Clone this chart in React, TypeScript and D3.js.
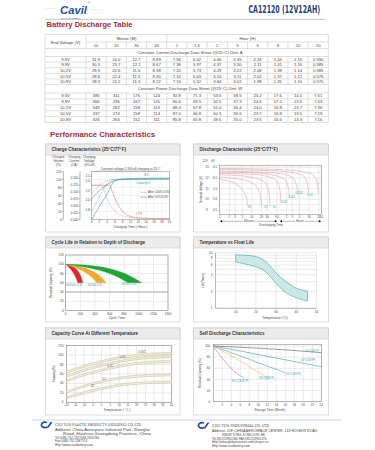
import React from "react";
import * as d3 from "d3";

const FONT = "'Liberation Sans', Arial, sans-serif";

// ---------------- Discharge table data ----------------
const endVoltages = ["9.6V", "9.9V", "10.2V", "10.5V", "10.8V"];
const minuteCols = ["10", "15", "30", "45"];
const hourCols = ["1", "1.5", "2", "3", "5", "8", "10", "20"];
const currentA = [
  ["31.9", "24.0", "12.7", "8.89", "7.56", "6.02", "4.46", "3.35", "2.16", "1.44", "1.16", "0.590"],
  ["30.3", "23.7", "12.1", "8.67", "7.38", "5.97", "4.37", "3.30", "2.11", "1.41", "1.16", "0.585"],
  ["28.9", "22.6", "11.5", "8.38", "7.20", "5.73", "4.29", "3.22", "2.08", "1.38", "1.14", "0.585"],
  ["28.6", "22.4", "11.5", "8.30", "7.16", "5.63", "4.10", "3.11", "2.02", "1.37", "1.12", "0.575"],
  ["28.3", "22.2", "11.3", "8.22", "7.16", "5.52", "3.84", "3.02", "1.98", "1.35", "1.10", "0.570"],
];
const powerW = [
  ["385", "311", "176", "124", "92.8", "71.3", "53.6", "38.5", "25.2", "17.6", "14.0", "7.51"],
  ["366", "296", "167", "120", "90.6", "69.5", "52.5", "37.3", "24.6", "17.2", "13.6", "7.43"],
  ["349", "282", "158", "116", "88.4", "67.8", "51.0", "36.4", "24.0", "16.8", "13.7", "7.36"],
  ["337", "274", "158", "114", "87.0", "66.8", "50.3", "35.6", "23.7", "16.8", "13.5", "7.29"],
  ["326", "265", "152", "111", "85.8", "65.8", "49.6", "35.0", "23.5", "16.6", "13.3", "7.16"],
];

// ---------------- Charge characteristics ----------------
const chargeTimeTicks = [0, 2, 4, 6, 8, 10, 12, 14, 16, 18, 20];
const volumeTicks = [0, 20, 40, 60, 80, 100, 120];
const currentTicks = [0, 0.025, 0.05, 0.075, 0.1, 0.125, 0.15];
const voltageTicks = [1.8, 2.0, 2.2, 2.4, 2.5];
const volume100 = [[0, 0], [1, 16], [2, 32], [3, 48], [4, 64], [4.8, 80], [5.6, 93], [6.5, 99], [8, 100], [20, 101]];
const volume50 = [[0, 20], [1, 38], [2, 56], [3, 74], [4, 88], [5, 96], [6, 99.5], [8, 100.5], [20, 101]];
const current100 = [[0, 0.125], [4.6, 0.125], [5.5, 0.095], [6.5, 0.062], [7.5, 0.038], [8.5, 0.022], [10, 0.011], [12, 0.006], [15, 0.004], [20, 0.003]];
const current50 = [[0, 0.125], [2.6, 0.125], [3.6, 0.09], [4.6, 0.058], [5.8, 0.034], [7, 0.02], [9, 0.01], [12, 0.005], [20, 0.003]];
const voltage100 = [[0, 2.02], [1, 2.12], [2, 2.2], [3, 2.27], [4, 2.33], [5, 2.38], [6, 2.41], [8, 2.44], [12, 2.455], [20, 2.46]];
const voltage50 = [[0, 2.12], [1, 2.23], [2, 2.31], [3, 2.37], [4, 2.41], [6, 2.44], [10, 2.455], [20, 2.46]];

// ---------------- Discharge characteristics ----------------
const dischargeMinuteTicks = [1, 2, 3, 5, 10, 20, 30, 60];
const dischargeHourTicks = [2, 3, 5, 10, 20, 24];
const voltGrid = [9, 9.5, 10, 10.5, 11, 11.5, 12, 12.5, 13];
const volt12Labels = [13, 12, 11, 10, 9];
const volt6Labels = ["6.5", "6.0", "5.5", "5.0", "4.5"];
const dischargeRates = ["3C", "2C", "1C", "0.6C", "0.4C", "0.25C", "0.1C", "0.05C"];
const dischargeCurves = [
  [[1, 11.9], [2, 11.7], [3, 11.5], [4, 11.25], [5, 10.95], [6, 10.55], [7, 10.0], [7.6, 9.3]],
  [[1, 12.1], [3, 11.95], [6, 11.8], [10, 11.55], [14, 11.2], [17, 10.7], [19, 10.1], [20, 9.3]],
  [[1, 12.3], [5, 12.2], [10, 12.05], [20, 11.8], [28, 11.4], [33, 10.8], [35.5, 10.1], [36.6, 9.4]],
  [[1, 12.45], [10, 12.35], [30, 12.15], [50, 11.9], [65, 11.5], [74, 10.9], [78, 10.3], [80, 9.7]],
  [[1, 12.55], [10, 12.5], [40, 12.3], [90, 12.0], [120, 11.6], [138, 11.0], [146, 10.5], [150, 10.1]],
  [[1, 12.65], [20, 12.55], [80, 12.4], [170, 12.1], [220, 11.7], [250, 11.15], [263, 10.8], [270, 10.4]],
  [[1, 12.8], [30, 12.7], [150, 12.55], [350, 12.3], [470, 11.9], [530, 11.4], [555, 11.0], [570, 10.6]],
  [[1, 12.9], [60, 12.8], [300, 12.65], [700, 12.4], [950, 12.0], [1080, 11.5], [1130, 11.1], [1160, 10.6]],
];
const dischargeLabelAt = [[8.7, 9.32], [26.9, 9.32], [50, 9.32], [102, 9.73], [173, 10.25], [298, 10.63], [640, 10.41]];

// ---------------- Cycle life ----------------
const cycleTicks = [0, 200, 400, 600, 800, 1000, 1200, 1400];
const residualTicks = [0, 20, 40, 60, 80, 100, 120];
const dodNames = ["100%D.O.D", "50%D.O.D", "30%D.O.D"];
const dodColors = ["#e3232a", "#f3a92c", "#1fa535"];
const dodUpper = [
  [[0, 100], [80, 97], [150, 90], [205, 77], [235, 60]],
  [[0, 100], [180, 96], [340, 88], [470, 76], [555, 60]],
  [[0, 100], [300, 98.5], [600, 92], [850, 79], [1040, 60]],
];
const dodLower = [
  [[0, 100], [50, 93], [100, 84], [140, 72], [165, 60]],
  [[0, 100], [130, 93], [260, 84], [360, 73], [425, 60]],
  [[0, 100], [230, 95], [480, 87], [690, 75], [850, 60]],
];
const dodLabelAt = [[110, 54], [400, 54], [870, 56]];

// ---------------- Temperature vs float life ----------------
const floatTempTicks = [10, 20, 30, 40, 50];
const floatLifeLabels = [10, 8, 6, 4, 2, 1];
const floatLifeGrid = [1, 2, 3, 4, 5, 6, 7, 8, 9, 10];
const floatUpper = [[10, 9.2], [14, 9.0], [18, 8.8], [21, 8.3], [25, 6.9], [30, 4.3], [35, 3.0], [40, 2.3], [45.5, 2.05]];
const floatLower = [[10, 6.8], [15, 6.2], [20, 5.6], [25, 4.5], [30, 2.8], [35, 1.9], [40, 1.55], [45.5, 1.35]];

// ---------------- Capacity vs temperature ----------------
const capTempTicks = [-20, -15, -10, -5, 0, 5, 10, 15, 20, 25, 30, 35, 40];
const capTicks = [0, 20, 40, 60, 80, 100, 120];
const capTemps = [-20, -10, 0, 10, 20, 30, 40];
const capRates = ["0.05C", "0.1C", "0.2C", "1C", "2C"];
const capUpper = [
  [66, 78, 88, 96, 101, 104, 105],
  [57, 70, 80, 88, 94, 97, 98],
  [47, 60, 70, 78, 84, 87, 88],
  [24, 36, 46, 53, 57, 59, 60],
  [11, 22, 31, 38, 42, 44, 45],
];
const capLower = [
  [62, 74, 84, 92, 97, 100, 101],
  [53, 66, 76, 84, 90, 93, 94],
  [43, 56, 66, 74, 80, 83, 84],
  [20, 32, 42, 49, 53, 55, 56],
  [8, 18, 27, 34, 38, 40, 41],
];
const capLabelAt = [[23, 104], [12, 93], [5, 75], [1.5, 48], [-5, 32]];

// ---------------- Self discharge ----------------
const storageTicks = [2, 4, 6, 8, 10, 12, 14, 16, 18, 20, 22, 24];
const sdCapTicks = [0, 20, 40, 60, 80, 100];
const sdNames = ["0°C(32°F)", "10°C(50°F)", "20°C(68°F)", "30°C(86°F)", "40°C(104°F)"];
const sdColors = ["#555555", "#3a9aa3", "#4aa3a0", "#ecb45a", "#bb6aa6"];
const sdCurves = [
  [[0, 100], [6, 97.8], [12, 95.2], [18, 92], [24, 88]],
  [[0, 100], [6, 91], [12, 81.5], [18, 72], [24, 63]],
  [[0, 100], [4, 88], [8, 76], [12, 64], [16, 52]],
  [[0, 100], [3, 87], [6, 73], [9, 58], [12, 43]],
  [[0, 100], [1, 88], [2, 78], [3, 68.5], [4, 60], [5, 52.5], [6, 46.5], [7, 42]],
];
const sdLabelAt = [[22, 90], [21, 73], [17.8, 48], [11.9, 40], [5.9, 36]];

// ---------------- helpers ----------------
const GRID = "#c9c9c9";
const TEAL = "#2f9fa6";

function T(props: any) {
  const { x, y, s = 3.6, a = "start", c = "#444", w = 400, children, ...rest } = props;
  return (
    <text x={x} y={y} fontSize={s} textAnchor={a} fill={c} fontWeight={w} fontFamily={FONT} {...rest}>
      {children}
    </text>
  );
}

function Panel({ x, y, w, h, title }: any) {
  return (
    <g>
      <rect x={x} y={y} width={w} height={h} fill="#fff" stroke="#c6c6c6" strokeWidth={0.6} />
      <rect x={x} y={y} width={w} height={11} fill="#ececec" stroke="#c6c6c6" strokeWidth={0.6} />
      <T x={x + 6} y={y + 7.3} s={4.5} w={700} c="#333">{title}</T>
    </g>
  );
}

function VTitle({ x, y, s = 3.3, children }: any) {
  return (
    <text transform={`translate(${x},${y}) rotate(-90)`} fontSize={s} textAnchor="middle" fill="#444" fontFamily={FONT}>
      {children}
    </text>
  );
}

const mkLine = (xs: any, ys: any, curve: any = d3.curveMonotoneX) =>
  d3.line<any>().x((d) => xs(d[0])).y((d) => ys(d[1])).curve(curve);

// ---------------- Table ----------------
function DischargeTable() {
  const x0 = 45, x1 = 86, x2 = 328.3;
  const cols = [...minuteCols, ...hourCols];
  const band = d3.scaleBand<number>().domain(d3.range(cols.length)).range([x1, x2]);
  const bounds = [34.5, 42, 48.5, 56.5, 62.1, 67.7, 73.3, 78.9, 84.5, 93, 98.9, 104.8, 110.7, 116.6, 122.5];
  const mid = (i: number) => (bounds[i] + bounds[i + 1]) / 2 + 1.5;
  const fs = 4.2;
  const lc = "#bdbdbd";
  const lines: any[] = [];
  bounds.forEach((b, i) => {
    const from = i === 1 ? x1 : x0;
    lines.push(<line key={"h" + i} x1={from} x2={x2} y1={b} y2={b} stroke={lc} strokeWidth={0.5} />);
  });
  const vSpans = [[0, 2], [3, 8], [9, 14]];
  vSpans.forEach(([a, b], k) => {
    lines.push(<line key={"v0" + k} x1={x0} x2={x0} y1={bounds[a]} y2={bounds[b]} stroke={lc} strokeWidth={0.5} />);
    lines.push(<line key={"v1" + k} x1={x1} x2={x1} y1={bounds[a]} y2={bounds[b]} stroke={lc} strokeWidth={0.5} />);
    lines.push(<line key={"v2" + k} x1={x2} x2={x2} y1={bounds[a]} y2={bounds[b]} stroke={lc} strokeWidth={0.5} />);
    d3.range(1, cols.length).forEach((c) => {
      const xx = band(c)!;
      const top = a === 0 ? (c === minuteCols.length ? bounds[0] : bounds[1]) : bounds[a];
      lines.push(<line key={`vc${k}-${c}`} x1={xx} x2={xx} y1={top} y2={bounds[b]} stroke={lc} strokeWidth={0.5} />);
    });
  });
  [2, 8].forEach((r) => {
    lines.push(<line key={"s0" + r} x1={x0} x2={x0} y1={bounds[r]} y2={bounds[r + 1]} stroke={lc} strokeWidth={0.5} />);
    lines.push(<line key={"s1" + r} x1={x2} x2={x2} y1={bounds[r]} y2={bounds[r + 1]} stroke={lc} strokeWidth={0.5} />);
  });
  const cx = (i: number) => band(i)! + band.bandwidth() / 2;
  return (
    <g>
      {lines}
      <T x={(x0 + x1) / 2} y={bounds[1] + 1.5} s={fs} a="middle">End Voltage (V)</T>
      <T x={(band(0)! + band(minuteCols.length)!) / 2} y={mid(0)} s={fs} a="middle">Minute (M)</T>
      <T x={(band(minuteCols.length)! + x2) / 2} y={mid(0)} s={fs} a="middle">Hour (H)</T>
      {cols.map((c, i) => (
        <T key={"c" + i} x={cx(i)} y={mid(1)} s={fs} a="middle">{c}</T>
      ))}
      <T x={190} y={mid(2)} s={fs} a="middle">Constant Current Discharge Data Sheet    (@25°C)    Unit: A</T>
      <T x={190} y={mid(8)} s={fs} a="middle">Constant Power Discharge Data Sheet    (@25°C)    Unit: W</T>
      {currentA.map((row, r) => (
        <g key={"ra" + r}>
          <T x={(x0 + x1) / 2} y={mid(3 + r)} s={fs} a="middle">{endVoltages[r]}</T>
          {row.map((v, i) => (
            <T key={i} x={cx(i)} y={mid(3 + r)} s={fs} a="middle">{v}</T>
          ))}
        </g>
      ))}
      {powerW.map((row, r) => (
        <g key={"rw" + r}>
          <T x={(x0 + x1) / 2} y={mid(9 + r)} s={fs} a="middle">{endVoltages[r]}</T>
          {row.map((v, i) => (
            <T key={i} x={cx(i)} y={mid(9 + r)} s={fs} a="middle">{v}</T>
          ))}
        </g>
      ))}
    </g>
  );
}

// ---------------- Charge chart ----------------
function ChargeChart() {
  const L = 91.5, R = 169.5, TOP = 171.5, B = 219.5;
  const x = d3.scaleLinear().domain([0, 20]).range([L, R]);
  const yV = d3.scaleLinear().domain([0, 120]).range([B, TOP]);
  const yC = d3.scaleLinear().domain([0, 0.175]).range([B, TOP]);
  const yU = d3.scaleLinear().domain([1.6, 2.6]).range([B, TOP]);
  const lv = mkLine(x, yV), lu = mkLine(x, yU);
  const lcs = mkLine(x, yC, d3.curveMonotoneX);
  const heads = [
    { x: 58.3, t: ["Charged", "Volume", "(%)"] },
    { x: 74.3, t: ["Charging", "Current", "(CA)"] },
    { x: 89.3, t: ["Charging", "Voltage", "(V/Cell)"] },
  ];
  return (
    <g>
      {heads.map((h, i) =>
        h.t.map((s, j) => (
          <T key={i + "-" + j} x={h.x} y={157.5 + j * 4} s={3.1} a="middle">{s}</T>
        ))
      )}
      {chargeTimeTicks.map((t) => (
        <line key={"gx" + t} x1={x(t)} x2={x(t)} y1={TOP} y2={B} stroke="#e0e0e0" strokeWidth={0.4} />
      ))}
      {volumeTicks.map((v) => (
        <line key={"gy" + v} x1={L} x2={R} y1={yV(v)} y2={yV(v)} stroke="#e0e0e0" strokeWidth={0.4} />
      ))}
      <rect x={L} y={TOP} width={R - L} height={B - TOP} fill="none" stroke="#888" strokeWidth={0.5} />
      <line x1={63.3} x2={63.3} y1={TOP} y2={B} stroke="#666" strokeWidth={0.5} />
      <line x1={80} x2={80} y1={TOP} y2={B} stroke="#666" strokeWidth={0.5} />
      {volumeTicks.map((v) => (
        <g key={"tv" + v}>
          <line x1={62} x2={63.3} y1={yV(v)} y2={yV(v)} stroke="#666" strokeWidth={0.4} />
          <T x={61.5} y={yV(v) + 1.1} s={3.1} a="end">{v}</T>
        </g>
      ))}
      {currentTicks.map((v) => (
        <g key={"tc" + v}>
          <line x1={78.7} x2={80} y1={yC(v)} y2={yC(v)} stroke="#666" strokeWidth={0.4} />
          <T x={78.3} y={yC(v) + 1.1} s={3.1} a="end">{v.toFixed(3)}</T>
        </g>
      ))}
      {voltageTicks.map((v) => (
        <g key={"tu" + v}>
          <line x1={L - 1.3} x2={L} y1={yU(v)} y2={yU(v)} stroke="#666" strokeWidth={0.4} />
          <T x={L - 1.7} y={yU(v) + 1.1} s={3.1} a="end">{v.toFixed(1)}</T>
        </g>
      ))}
      {chargeTimeTicks.map((t) => (
        <T key={"xl" + t} x={x(t)} y={B + 3.8} s={3.1} a="middle">{t}</T>
      ))}
      <T x={(L + R) / 2} y={228.3} s={3.4} a="middle">Charging Time ( Hour )</T>
      <T x={(L + R) / 2} y={TOP - 1.3} s={3.1} a="middle">Constant voltage 2.3V/cell charging at 25°C</T>
      <line x1={96} x2={158} y1={TOP - 0.6} y2={TOP - 0.6} stroke="#777" strokeWidth={0.3} />
      <path d={lv(volume50)!} fill="none" stroke="#8a8a8a" strokeWidth={0.5} strokeDasharray="1.5,0.8" />
      <path d={lv(volume100)!} fill="none" stroke={TEAL} strokeWidth={0.6} />
      <path d={lu(voltage50)!} fill="none" stroke="#8a8a8a" strokeWidth={0.5} strokeDasharray="1.5,0.8" />
      <path d={lu(voltage100)!} fill="none" stroke={TEAL} strokeWidth={0.6} />
      <path d={lcs(current50)!} fill="none" stroke="#999" strokeWidth={0.5} strokeDasharray="1.5,0.8" />
      <path d={lcs(current100)!} fill="none" stroke="#d0787e" strokeWidth={0.6} />
      <T x={x(13.5)} y={yV(108)} s={3} c={TEAL}>B.V</T>
      <T x={x(11.5)} y={yV(88)} s={3} c={TEAL}>Capacity C</T>
      <T x={x(11.5)} y={yC(0.018)} s={3} c="#c05060">I.T.V</T>
      <line x1={x(12.6)} x2={x(14.2)} y1={yV(68)} y2={yV(68)} stroke="#666" strokeWidth={0.5} strokeDasharray="1,0.6" />
      <T x={x(14.5)} y={yV(68) + 1} s={2.9}>After 100% DOD</T>
      <line x1={x(12.6)} x2={x(14.2)} y1={yV(56)} y2={yV(56)} stroke="#666" strokeWidth={0.5} />
      <T x={x(14.5)} y={yV(56) + 1} s={2.9}>After 50% DOD</T>
    </g>
  );
}

// ---------------- Discharge chart ----------------
function DischargeChart() {
  const L = 219.7, R = 321.3, TOP = 165.2, B = 214.3;
  const x = d3.scaleLog().domain([1, 1440]).range([L, R]);
  const y = d3.scaleLinear().domain([8.6, 13.2]).range([B, TOP]);
  const ln = mkLine(x, y);
  const ticks = [
    ...dischargeMinuteTicks.map((m) => ({ v: m, l: String(m) })),
    ...dischargeHourTicks.map((h) => ({ v: h * 60, l: String(h) })),
  ];
  const split = x(60) + 1.5;
  const ay = 221.3;
  return (
    <g>
      {voltGrid.map((v) => (
        <line key={"g" + v} x1={L} x2={R} y1={y(v)} y2={y(v)} stroke={GRID} strokeWidth={0.35} />
      ))}
      {ticks.map((t, i) => (
        <line key={"gx" + i} x1={x(t.v)} x2={x(t.v)} y1={TOP} y2={B} stroke={GRID} strokeWidth={0.35} />
      ))}
      <rect x={L} y={TOP} width={R - L} height={B - TOP} fill="none" stroke="#777" strokeWidth={0.5} />
      {dischargeCurves.map((c, i) => (
        <path key={"c" + i} d={ln(c)!} fill="none" stroke="#d99aa4" strokeWidth={0.55} />
      ))}
      {dischargeLabelAt.map((p, i) => (
        <T key={"dl" + i} x={x(p[0])} y={y(p[1]) + 1} s={3} a="middle" c={TEAL}>{dischargeRates[i]}</T>
      ))}
      <T x={205} y={162.3} s={2.9} a="middle">12V</T>
      <T x={213} y={162.3} s={2.9} a="middle">6V</T>
      {volt12Labels.map((v, i) => (
        <g key={"yl" + v}>
          <T x={207} y={y(v) + 1.1} s={3} a="middle">{v}</T>
          <T x={215} y={y(v) + 1.1} s={3} a="middle">{volt6Labels[i]}</T>
        </g>
      ))}
      <VTitle x={201.5} y={(TOP + B) / 2} s={3}>Terminal Voltage (V)</VTitle>
      {ticks.map((t, i) => (
        <T key={"xl" + i} x={x(t.v)} y={B + 3.6} s={2.9} a="middle">{t.l}</T>
      ))}
      <line x1={L + 2} x2={split - 3} y1={ay} y2={ay} stroke="#333" strokeWidth={0.35} />
      <line x1={split + 3} x2={R - 2} y1={ay} y2={ay} stroke="#333" strokeWidth={0.35} />
      <path d={`M${L},${ay}l2.4,-1.2v2.4z`} fill="#111" />
      <path d={`M${split - 1.2},${ay}l-2.4,-1.2v2.4z`} fill="#111" />
      <path d={`M${split + 1.2},${ay}l2.4,-1.2v2.4z`} fill="#111" />
      <path d={`M${R},${ay}l-2.4,-1.2v2.4z`} fill="#111" />
      <rect x={(L + split) / 2 - 6} y={ay - 1.8} width={12} height={3.2} fill="#fff" />
      <T x={(L + split) / 2} y={ay + 1} s={2.9} a="middle">Minutes</T>
      <rect x={(split + R) / 2 - 5} y={ay - 1.8} width={10} height={3.2} fill="#fff" />
      <T x={(split + R) / 2} y={ay + 1} s={2.9} a="middle">Hours</T>
      <T x={271} y={226} s={3.1} a="middle">Discharging Time</T>
    </g>
  );
}

// ---------------- Cycle life ----------------
function CycleChart() {
  const L = 65.7, R = 168, TOP = 255, B = 310.5;
  const x = d3.scaleLinear().domain([0, 1400]).range([L, R]);
  const y = d3.scaleLinear().domain([0, 120]).range([B, TOP]);
  const ln = mkLine(x, y, d3.curveBasis);
  return (
    <g>
      {residualTicks.map((v) => (
        <line key={"gy" + v} x1={L} x2={R} y1={y(v)} y2={y(v)} stroke={v === 40 ? "#8c8c8c" : GRID} strokeWidth={v === 40 ? 0.8 : 0.4} />
      ))}
      {cycleTicks.map((v) => (
        <line key={"gx" + v} x1={x(v)} x2={x(v)} y1={TOP} y2={B} stroke={GRID} strokeWidth={0.4} />
      ))}
      <rect x={L} y={TOP} width={R - L} height={B - TOP} fill="none" stroke="#777" strokeWidth={0.5} />
      {dodUpper.map((up, i) => {
        const lower = dodLower[i].slice().reverse();
        const d = ln(up)! + "L" + ln(lower)!.slice(1) + "Z";
        return <path key={"b" + i} d={d} fill={dodColors[i]} stroke={dodColors[i]} strokeWidth={0.3} />;
      })}
      {dodLabelAt.map((p, i) => (
        <T key={"dl" + i} x={x(p[0])} y={y(p[1])} s={3.1} a="middle" c={TEAL}>{dodNames[i]}</T>
      ))}
      {residualTicks.map((v) => (
        <T key={"yl" + v} x={L - 2} y={y(v) + 1.1} s={3.1} a="end">{v}</T>
      ))}
      {cycleTicks.map((v) => (
        <T key={"xl" + v} x={x(v)} y={B + 4} s={3.1} a="middle">{v}</T>
      ))}
      <VTitle x={52} y={(TOP + B) / 2} s={3.1}>Residual Capacity (%)</VTitle>
      <T x={(L + R) / 2} y={319.2} s={3.3} a="middle">Cycle Time</T>
    </g>
  );
}

// ---------------- Temperature vs float life ----------------
function FloatLifeChart() {
  const L = 215.5, R = 316.5, TOP = 252.7, B = 308.3;
  const x = d3.scaleLinear().domain([0, 50]).range([L, R]);
  const y = d3.scaleLog().domain([1, 10]).range([B, TOP]);
  const ln = mkLine(x, y);
  const upPath = ln(floatUpper)!;
  const loRev = ln(floatLower.slice().reverse())!;
  const d = upPath + "L" + loRev.slice(1) + "Z";
  return (
    <g>
      <defs>
        <pattern id="hatch" width="1.8" height="1.8" patternUnits="userSpaceOnUse" patternTransform="rotate(45)">
          <rect width="1.8" height="1.8" fill="#dff2f2" />
          <line x1="0" y1="0" x2="0" y2="1.8" stroke="#35a3a8" strokeWidth="0.45" />
        </pattern>
      </defs>
      {floatLifeGrid.map((v) => (
        <line key={"gy" + v} x1={L} x2={R} y1={y(v)} y2={y(v)} stroke={GRID} strokeWidth={0.4} />
      ))}
      {floatTempTicks.map((v) => (
        <line key={"gx" + v} x1={x(v)} x2={x(v)} y1={TOP} y2={B} stroke={GRID} strokeWidth={0.4} />
      ))}
      <line x1={L} x2={L} y1={TOP} y2={B} stroke="#777" strokeWidth={0.5} />
      <line x1={L} x2={R} y1={B} y2={B} stroke="#777" strokeWidth={0.5} />
      <path d={d} fill="url(#hatch)" stroke="#2f9aa3" strokeWidth={0.55} />
      {floatLifeLabels.map((v) => (
        <T key={"yl" + v} x={L - 3} y={y(v) + 1.1} s={3.1} a="end">{v}</T>
      ))}
      {floatTempTicks.map((v) => (
        <T key={"xl" + v} x={x(v)} y={B + 4.2} s={3.1} a="middle">{v}</T>
      ))}
      <VTitle x={204} y={(TOP + B) / 2} s={3.1}>Life(Years)</VTitle>
      <T x={275} y={318.5} s={3.3} a="middle">Temperature (°C)</T>
    </g>
  );
}

// ---------------- Capacity vs temperature ----------------
function CapTempChart() {
  const L = 66.5, R = 171.7, TOP = 345.5, B = 402.3;
  const x = d3.scaleLinear().domain([-20, 40]).range([L, R]);
  const y = d3.scaleLinear().domain([0, 120]).range([B, TOP]);
  const line = d3
    .line<number>()
    .x((_, i) => x(capTemps[i]))
    .y((d) => y(d))
    .curve(d3.curveMonotoneX);
  return (
    <g>
      {capTicks.map((v) => (
        <line key={"gy" + v} x1={L} x2={R} y1={y(v)} y2={y(v)} stroke={GRID} strokeWidth={0.4} />
      ))}
      {capTempTicks.map((v) => (
        <line key={"gx" + v} x1={x(v)} x2={x(v)} y1={TOP} y2={B} stroke={GRID} strokeWidth={0.4} />
      ))}
      <rect x={L} y={TOP} width={R - L} height={B - TOP} fill="none" stroke="#777" strokeWidth={0.5} />
      {capUpper.map((up, k) => {
        const lo = capLower[k];
        const a = d3
          .area<number>()
          .x((_, i) => x(capTemps[i]))
          .y0((_, i) => y(lo[i]))
          .y1((d) => y(d))
          .curve(d3.curveMonotoneX);
        return (
          <g key={"c" + k}>
            <path d={a(up)!} fill="#f6f1dc" />
            <path d={line(up)!} fill="none" stroke="#b9b28f" strokeWidth={0.5} />
            <path d={line(lo)!} fill="none" stroke="#b9b28f" strokeWidth={0.5} />
          </g>
        );
      })}
      {capLabelAt.map((p, i) => (
        <T key={"cl" + i} x={x(p[0])} y={y(p[1])} s={3} a="middle" c="#555">{capRates[i]}</T>
      ))}
      {capTicks.map((v) => (
        <T key={"yl" + v} x={L - 3} y={y(v) + 1.1} s={3.1} a="end">{v}</T>
      ))}
      {capTempTicks.map((v) => (
        <T key={"xl" + v} x={x(v)} y={B + 4} s={2.9} a="middle">{v}</T>
      ))}
      <VTitle x={55} y={(TOP + B) / 2} s={3.1}>Capacity(%)</VTitle>
      <T x={117} y={411.3} s={3.3} a="middle">Temperature ( °C )</T>
    </g>
  );
}

// ---------------- Self discharge ----------------
function SelfDischargeChart() {
  const L = 213.3, R = 321.3, TOP = 344.5, B = 401.7;
  const x = d3.scaleLinear().domain([0, 24]).range([L, R]);
  const y = d3.scaleLinear().domain([0, 100]).range([B, 346]);
  const ln = mkLine(x, y);
  return (
    <g>
      {sdCapTicks.map((v) => (
        <line key={"gy" + v} x1={L} x2={R} y1={y(v)} y2={y(v)} stroke={GRID} strokeWidth={0.4} />
      ))}
      {storageTicks.map((v) => (
        <line key={"gx" + v} x1={x(v)} x2={x(v)} y1={TOP} y2={B} stroke={GRID} strokeWidth={0.4} />
      ))}
      <rect x={L} y={TOP} width={R - L} height={B - TOP} fill="none" stroke="#777" strokeWidth={0.5} />
      {sdCurves.map((c, i) => (
        <path key={"s" + i} d={ln(c)!} fill="none" stroke={sdColors[i]} strokeWidth={0.6} />
      ))}
      {sdLabelAt.map((p, i) => (
        <T key={"sl" + i} x={x(p[0])} y={y(p[1])} s={3} a="middle" c={TEAL}>{sdNames[i]}</T>
      ))}
      {sdCapTicks.map((v) => (
        <T key={"yl" + v} x={L - 3} y={y(v) + 1.1} s={3.1} a="end">{v}</T>
      ))}
      {storageTicks.map((v) => (
        <T key={"xl" + v} x={x(v)} y={B + 4.4} s={3.1} a="middle">{v}</T>
      ))}
      <VTitle x={200.5} y={(TOP + B) / 2} s={3}>Residual Capacity (%)</VTitle>
      <T x={270} y={410.8} s={3.2} a="middle">Storage Time (Month)</T>
    </g>
  );
}

function FooterLogo({ x, y }: any) {
  return (
    <g>
      <path d={`M${x + 5},${y - 2.4} A3.6,2.7 0 1 0 ${x + 5.2},${y + 2}`} fill="none" stroke="#1b4ea2" strokeWidth={1.7} />
      <path d={`M${x + 4.5},${y + 2.8} L${x + 8.5},${y - 3} L${x + 10.5},${y - 3} L${x + 6.5},${y + 2.8} Z`} fill="#1b4ea2" />
    </g>
  );
}

export default function App() {
  return (
    <svg width={375} height={450} viewBox="0 0 375 450" style={{ position: "absolute", left: 0, top: 0, background: "#fff" }}>
      <rect width={375} height={450} fill="#fff" />
      {/* header */}
      <T x={45} y={10} s={5} c="#1d4fa3">· · · ·</T>
      <T x={91} y={10.5} s={5} c="#1d4fa3">· · · ·</T>
      <text x={60} y={13.6} fontSize={11.5} fontWeight={700} fontStyle="italic" fill="#1d4fa3" fontFamily={FONT} textLength={27} lengthAdjust="spacingAndGlyphs">Cavil</text>
      <text x={88} y={4} fontSize={2.6} fill="#1d4fa3" fontFamily={FONT}>®</text>
      <text x={61} y={18.6} fontSize={2.3} fill="#555" fontFamily={FONT} textLength={19} lengthAdjust="spacingAndGlyphs">CAVIL BATTERY</text>
      <text x={248.5} y={12.8} fontSize={10.5} fontWeight={700} fill="#1f3e7c" fontFamily="'DejaVu Sans Condensed', 'Liberation Sans Narrow', 'Liberation Sans', sans-serif" textLength={71.5} lengthAdjust="spacingAndGlyphs">CA12120 (12V12AH)</text>
      <line x1={45} x2={325} y1={19.3} y2={19.3} stroke="#9a9a9a" strokeWidth={0.6} />
      <text x={46.5} y={27.2} fontSize={6.6} fontWeight={700} fill="#a52a3c" fontFamily={FONT} textLength={86} lengthAdjust="spacingAndGlyphs">Battery Discharge Table</text>

      <DischargeTable />

      <text x={50} y={136.5} fontSize={7.2} fontWeight={700} fill="#a52a3c" fontFamily={FONT} textLength={105} lengthAdjust="spacingAndGlyphs">Performance Characteristics</text>

      <Panel x={45.5} y={144} w={134.5} h={88} title="Charge Characteristics (25°C/77°F)" />
      <Panel x={193.5} y={144} w={135} h={88} title="Discharge Characteristic (25°C/77°F)" />
      <Panel x={45.5} y={237} w={134.5} h={85} title="Cycle Life in Relation to Depth of Discharge" />
      <Panel x={193.5} y={237} w={135} h={85} title="Temperature vs Float Life" />
      <Panel x={45.5} y={328} w={134.5} h={87} title="Capacity Curve At Different Temperature" />
      <Panel x={193.5} y={328} w={135} h={87} title="Self Discharge Characteristics" />

      <ChargeChart />
      <DischargeChart />
      <CycleChart />
      <FloatLifeChart />
      <CapTempChart />
      <SelfDischargeChart />

      {/* footer */}
      <line x1={32} x2={342} y1={420} y2={420} stroke="#c7d5e4" strokeWidth={1} />
      <FooterLogo x={42} y={425} />
      <text x={55} y={426.3} fontSize={3.8} fill="#333" fontFamily="'DejaVu Serif', serif" textLength={87} lengthAdjust="spacingAndGlyphs">CHU YUN PLASTIC PRODUCTS (HOLDING) CO.,LTD.</text>
      <text x={55} y={431.3} fontSize={3.2} fill="#444" fontFamily={FONT} textLength={95} lengthAdjust="spacingAndGlyphs">Address: China Aerospace Industrial Park, Zhonghe</text>
      <text x={63} y={434.9} fontSize={3.2} fill="#444" fontFamily={FONT} textLength={88} lengthAdjust="spacingAndGlyphs">Road, Huizhou,Guangdong Province, China</text>
      <T x={55} y={438.6} s={3.1}>Tel:0086-752-2627038    2826784</T>
      <T x={55} y={442.4} s={3.1}>Fax:0086-752-2387574</T>
      <T x={55} y={446.2} s={3.1}>Http://www.cavilbattery.com</T>

      <FooterLogo x={199} y={425.5} />
      <text x={212} y={426.6} fontSize={3.8} fill="#333" fontFamily="'DejaVu Serif', serif" textLength={58} lengthAdjust="spacingAndGlyphs">CHU YUN INDUSTRIAL CO.,LTD.</text>
      <text x={212} y={432.1} fontSize={3.1} fill="#444" fontFamily={FONT} textLength={106} lengthAdjust="spacingAndGlyphs">Address: 15F.,CHINA AEROSPACE CENTER, 143 HOI BUN ROAD,</text>
      <T x={222} y={435.7} s={3.1}>KWUN TONG, KOWLOON, HK.</T>
      <T x={212} y={439.5} s={3.1}>Tel:(852)23901366      FAX:(852)23901376</T>
      <T x={212} y={443.3} s={3.1}>Http://www.globalsources.com/chuyun.co</T>
      <T x={212} y={447.1} s={3.1}>Http://www.cavilbattery.com</T>
    </svg>
  );
}
